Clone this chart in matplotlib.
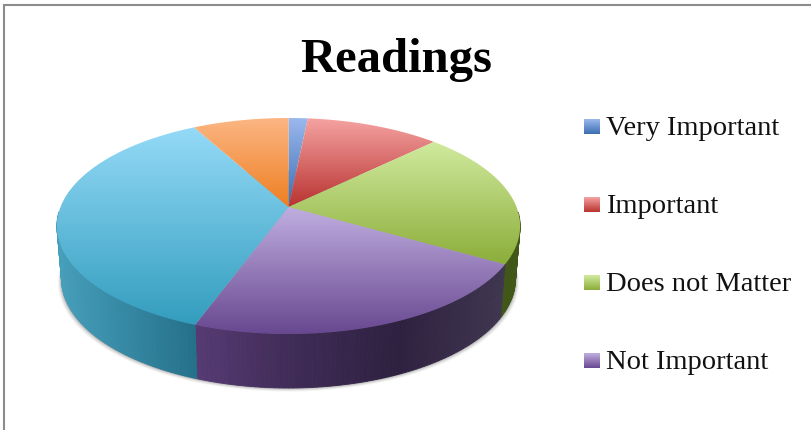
import matplotlib
matplotlib.use('Agg')
import matplotlib.pyplot as plt
import numpy as np
from matplotlib.collections import PolyCollection
from matplotlib.colors import LinearSegmentedColormap
from matplotlib.patches import Polygon

# slices run clockwise from twelve o'clock, legend is cut off after the fourth
labels = ['Very Important', 'Important', 'Does not Matter', 'Not Important']
values = [1, 7, 13, 14, 23, 5]

top_light = ['#9bb9ee', '#f5a3a2', '#d0ea9e', '#c0aee0', '#94daf7', '#fcb684']
top_dark = ['#3c6db0', '#b83330', '#8cae3a', '#684890', '#339dbe', '#ee7f22']
wall_stops = [['#2a4a78', '#2a4a78'], ['#7a2422', '#7a2422'], ['#3a5210', '#42581a'],
              ['#563b74', '#3f2b56', '#2e2140', '#3f3650'], ['#469fbb', '#25718b'],
              ['#a85a18', '#a85a18']]

plt.rcParams['font.family'] = ['Liberation Serif', 'DejaVu Serif']

# perspective of the pie, in pixels
CX, APEX_Y, R = 288.5, 208.0, 228.0
PC, PA = 0.1759, -68.07


def project(theta):
    u, v = np.sin(theta), np.cos(theta)
    w = 1 + PC * v
    return CX + R * u / w, (PA * v + APEX_Y) / w


def project_bottom(theta):
    x, y = project(theta)
    return CX + (x - CX) * 0.98, y + 52.5 - 1.5 * np.cos(theta)


def gradient(ax, c0, c1, extent, clip=None):
    cmap = LinearSegmentedColormap.from_list('g', [c0, c1])
    data = np.linspace(0, 1, 128).reshape(-1, 1)
    im = ax.imshow(data, cmap=cmap, extent=extent, aspect='auto', origin='upper',
                   interpolation='bilinear', zorder=3)
    if clip is not None:
        im.set_clip_path(clip)
    return im


fig = plt.figure(figsize=(8.12, 4.31), dpi=100)
ax = fig.add_axes([0, 0, 1, 1])
ax.set_xlim(0, 812)
ax.set_ylim(431, 0)
ax.axis('off')

# chart frame, only top and left fall inside the crop
ax.plot([4, 4, 812], [431, 6, 6], color='#8c8c8c', lw=1.5, zorder=1, solid_joinstyle='miter')

edges = np.radians(np.cumsum([0] + values) / sum(values) * 360)

# soft shadow under the pie
t = np.linspace(0, 2 * np.pi, 361)
bx, by = project_bottom(t)
for grow, alpha in [(3.5, 0.06), (2.5, 0.09), (1.5, 0.13), (0.7, 0.18)]:
    ax.add_patch(Polygon(np.column_stack([CX + (bx - CX) * (1 + grow / 228), by + grow]),
                         fc='#303030', ec='none', alpha=alpha, zorder=1.5))

# side wall, one thin quad per degree
quads, quad_colors = [], []
for i in range(len(values)):
    a0, a1 = edges[i], edges[i + 1]
    steps = np.linspace(a0, a1, max(2, int(np.degrees(a1 - a0)) + 1))
    stops = [np.array(matplotlib.colors.to_rgb(c)) for c in wall_stops[i]]
    for j in range(len(steps) - 1):
        s0, s1 = steps[j], steps[j + 1]
        if np.cos((s0 + s1) / 2) > -0.05:
            continue
        x0, y0 = project(s0)
        x1, y1 = project(s1)
        x2, y2 = project_bottom(s1)
        x3, y3 = project_bottom(s0)
        quads.append([(x0, y0), (x1, y1), (x2, y2), (x3, y3)])
        # colour follows screen x across the slice, left to right
        xs = project(np.linspace(a0, a1, 60))[0]
        frac = (x0 - xs.min()) / (xs.max() - xs.min())
        pos = np.linspace(0, 1, len(stops))
        quad_colors.append([np.interp(frac, pos, [c[k] for c in stops]) for k in range(3)])
ax.add_collection(PolyCollection(quads, facecolors=quad_colors, edgecolors=quad_colors,
                                 linewidths=0.6, zorder=2))

# top face, gradient runs over each slice's own height
for i in range(len(values)):
    arc = np.linspace(edges[i], edges[i + 1], 120)
    x, y = project(arc)
    pts = np.column_stack([np.r_[CX, x], np.r_[APEX_Y, y]])
    patch = Polygon(pts, transform=ax.transData, fc='none', ec='none')
    ax.add_patch(patch)
    ext = (pts[:, 0].min() - 1, pts[:, 0].max() + 1, pts[:, 1].max(), pts[:, 1].min())
    gradient(ax, top_light[i], top_dark[i], ext, clip=patch)

ax.text(396, 72, 'Readings', fontsize=35, fontweight='bold', ha='center', va='baseline',
        color='black', zorder=5)

for i, name in enumerate(labels):
    yc = 127.5 + 78 * i
    gradient(ax, top_light[i], top_dark[i], (584, 600, yc + 7.5, yc - 7.5))
    ax.text(606, yc + 8, name, fontsize=20.5, ha='left', va='baseline', color='#111111', zorder=5)

ax.set_xlim(0, 812)
ax.set_ylim(431, 0)
fig.savefig('out.png', dpi=100)
plt.close(fig)
